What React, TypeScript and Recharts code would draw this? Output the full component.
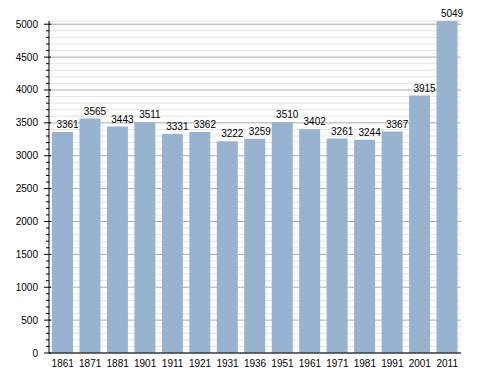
import { Bar, BarChart, CartesianGrid, LabelList, XAxis, YAxis } from 'recharts';

const years = ['1861', '1871', '1881', '1901', '1911', '1921', '1931', '1936', '1951', '1961', '1971', '1981', '1991', '2001', '2011'];
const population = [3361, 3565, 3443, 3511, 3331, 3362, 3222, 3259, 3510, 3402, 3261, 3244, 3367, 3915, 5049];
const yTicks = Array.from({ length: 51 }, (_, i) => i * 100);

const FONT = '"Liberation Sans", Arial, sans-serif';

const data = years.map((year, i) => ({ year, value: population[i] }));

const YTick = ({ x, y, payload }: any) => {
  const major = payload.value % 500 === 0;
  return (
    <g>
      <line x1={major ? x - 5 : x - 3} x2={major ? x + 2 : x} y1={y} y2={y} stroke="#000" />
      {major && (
        <text x={x - 11} y={y} dy={3.5} textAnchor="end" fontSize={10} fontFamily={FONT} fill="#000">
          {payload.value}
        </text>
      )}
    </g>
  );
};

// every 5th line (multiples of 500) is darker
const GridLine = (props: any) => {
  const major = props.index % 5 === 0;
  return (
    <line
      x1={props.x1}
      x2={props.x2}
      y1={props.y1}
      y2={props.y2}
      stroke={major ? '#aaaaaa' : '#e2e2e2'}
      strokeWidth={1}
    />
  );
};

export default function App() {
  return (
    <div style={{ position: 'absolute', left: 0, top: 0, background: '#fff' }}>
      <BarChart width={488} height={373} data={data} margin={{ top: 21, right: 27, bottom: 0, left: 0 }}>
        <CartesianGrid vertical={false} horizontal={GridLine} />
        <XAxis
          dataKey="year"
          height={20}
          stroke="#000"
          tickLine={false}
          tick={{ fontSize: 10, fontFamily: FONT, fill: '#000' }}
          tickMargin={1}
        />
        <YAxis
          domain={[0, 5049]}
          ticks={yTicks}
          interval={0}
          width={49}
          stroke="#000"
          tickLine={false}
          tickSize={0}
          tickMargin={0}
          tick={YTick}
        />
        <Bar dataKey="value" fill="#97b3cf" barSize={21} isAnimationActive={false}>
          <LabelList dataKey="value" position="top" offset={4} dx={5} fontSize={10} fontFamily={FONT} fill="#000" />
        </Bar>
      </BarChart>
    </div>
  );
}
